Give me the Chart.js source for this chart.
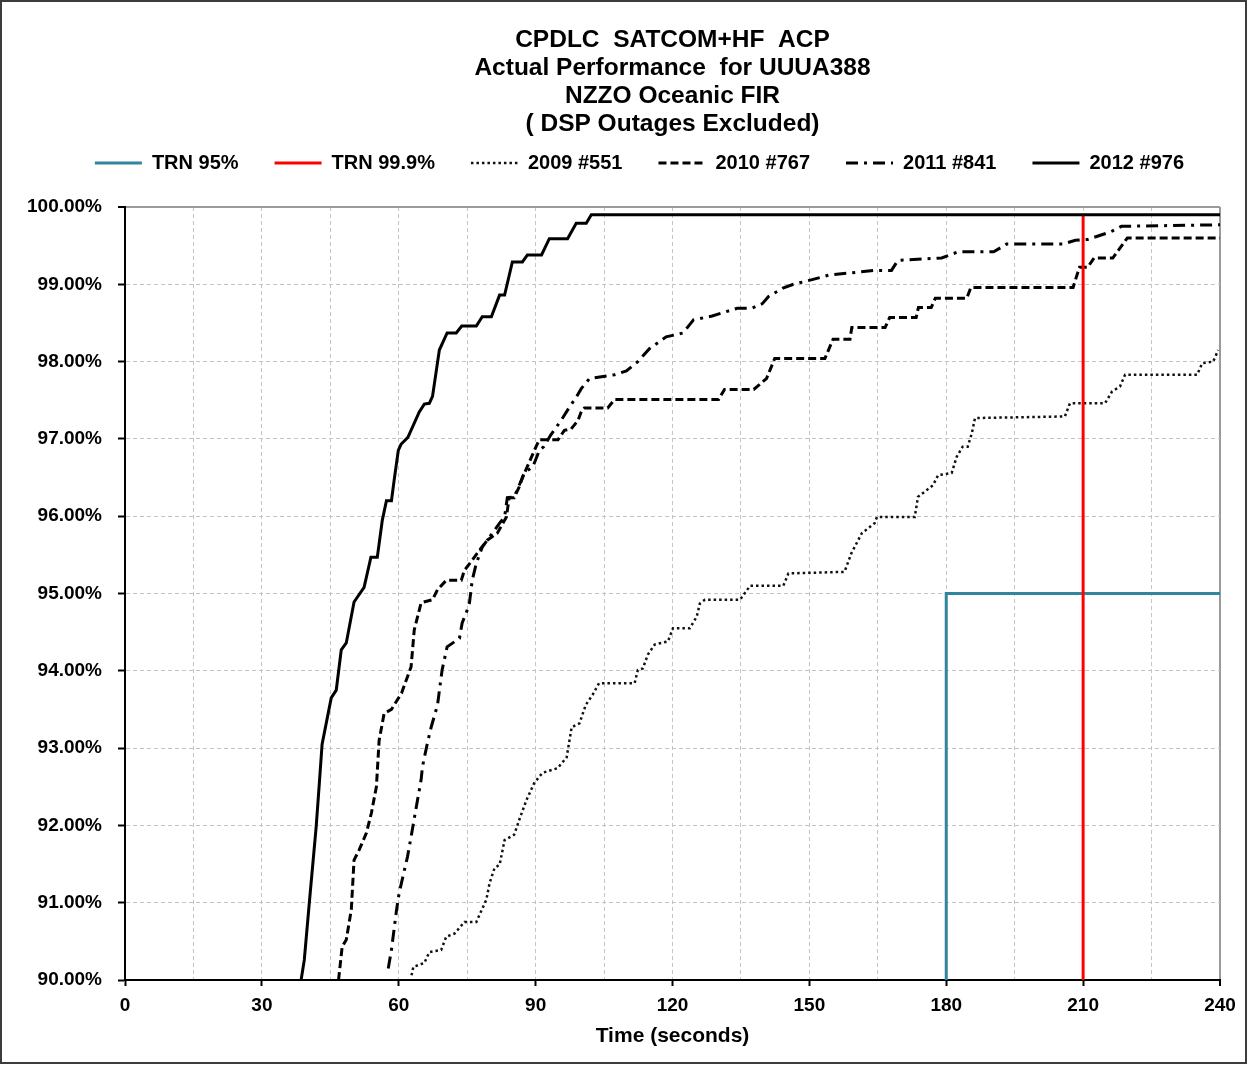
<!DOCTYPE html>
<html>
<head>
<meta charset="utf-8">
<script src="https://cdn.jsdelivr.net/npm/chart.js@4.4.1/dist/chart.umd.min.js"></script>
<style>
  html, body { margin: 0; padding: 0; background: #fff; }
  #wrap { position: relative; width: 1249px; height: 1067px; }
  #frame {
    position: absolute; left: 0; top: 0; width: 1247px; height: 1064px;
    box-sizing: border-box; border: 2px solid #3c3c3c; pointer-events: none;
  }
</style>
</head>
<body>
<div id="wrap">
  <canvas id="chart" width="1249" height="1067"></canvas>
  <div id="frame"></div>
</div>
<script>
// target lines
const trn95Time = [180, 180, 240];
const trn95Pct = [90, 95, 95];
const trn999Time = [210, 210];
const trn999Pct = [90, 99.9];

// 2009 #551 (seconds, cumulative %)
const time2009 = [62.8, 63.2, 65.6, 66.7, 69.3, 70.4, 72.2, 74.4, 77.0, 79.2, 79.9, 81.0, 82.1, 83.2, 85.3, 86.4, 88.0, 89.7,
  91.5, 94.8, 96.8, 97.9, 99.6, 101.0, 102.5, 103.9, 111.7, 112.4, 113.5, 114.6, 116.1, 119.0, 120.1, 123.8, 125.3, 126.0,
  127.1, 134.8, 135.8, 137.0, 144.3, 145.4, 157.7, 159.2, 161.5, 164.3, 164.8, 173.1, 173.8, 177.1, 178.2, 181.2, 182.3,
  183.6, 184.7, 185.6, 186.3, 206.0, 207.1, 214.8, 216.3, 218.1, 219.2, 235.0, 236.1, 238.5, 239.6];
const pct2009 = [90.06, 90.17, 90.22, 90.36, 90.39, 90.56, 90.60, 90.75, 90.75, 91.04, 91.25, 91.45, 91.49, 91.81, 91.88, 92.07, 92.33, 92.55,
  92.68, 92.74, 92.88, 93.27, 93.32, 93.56, 93.69, 93.84, 93.84, 94.01, 94.03, 94.21, 94.34, 94.38, 94.55, 94.55, 94.70, 94.87,
  94.92, 94.92, 95.00, 95.10, 95.10, 95.26, 95.28, 95.52, 95.78, 95.91, 95.99, 95.99, 96.25, 96.40, 96.53, 96.56, 96.77,
  96.90, 96.90, 97.07, 97.27, 97.29, 97.46, 97.46, 97.61, 97.68, 97.83, 97.83, 97.98, 98.00, 98.15];

// 2010 #767
const time2010 = [46.8, 47.6, 48.5, 49.6, 50.2, 51.3, 52.9, 54.0, 55.1, 55.7, 56.8, 58.4, 60.6, 61.9, 62.7, 63.4, 64.9, 67.4,
  68.5, 70.4, 73.7, 74.4, 76.1, 77.7, 79.4, 81.6, 83.6, 84.2, 85.3, 86.4, 87.2, 90.1, 90.8, 94.9, 96.3, 97.8, 99.3, 100.0,
  100.7, 105.8, 107.3, 130.1, 131.4, 137.8, 140.6, 142.4, 153.4, 155.2, 158.9, 159.3, 166.6, 167.6, 173.4, 173.9, 176.7,
  177.6, 184.5, 185.4, 207.8, 209.2, 211.0, 212.4, 216.5, 219.7, 240];
const pct2010 = [90.00, 90.43, 90.52, 90.91, 91.55, 91.68, 91.90, 92.16, 92.50, 93.10, 93.45, 93.50, 93.71, 93.92, 94.05, 94.53, 94.88, 94.92,
  95.05, 95.17, 95.17, 95.30, 95.43, 95.56, 95.69, 95.78, 95.99, 96.24, 96.24, 96.38, 96.51, 96.90, 96.99, 96.99, 97.11, 97.13, 97.24, 97.35,
  97.40, 97.40, 97.51, 97.51, 97.64, 97.64, 97.78, 98.04, 98.04, 98.29, 98.29, 98.44, 98.44, 98.57, 98.57, 98.70, 98.70,
  98.82, 98.82, 98.96, 98.96, 99.22, 99.22, 99.34, 99.34, 99.60, 99.60];

// 2011 #841
const time2011 = [57.7, 58.4, 59.5, 60.1, 61.9, 62.7, 63.4, 64.9, 65.2, 66.3, 67.1, 68.5, 69.5, 70.6, 73.3, 73.9, 74.8, 75.5,
  76.1, 77.0, 78.3, 80.5, 82.1, 83.2, 83.8, 85.3, 86.9, 87.5, 89.4, 90.8, 91.8, 93.3, 95.6, 97.4, 98.9, 100.0, 101.8, 107.3,
  109.9, 112.4, 115.0, 118.6, 122.3, 124.6, 128.7, 134.2, 137.4, 139.7, 141.0, 144.2, 146.5, 150.6, 154.3, 164.4, 168.0,
  169.4, 179.0, 182.6, 190.4, 193.2, 205.5, 208.3, 211.0, 216.1, 218.4, 240];
const pct2011 = [90.15, 90.39, 90.90, 91.13, 91.59, 91.85, 92.09, 92.59, 92.76, 93.07, 93.27, 93.56, 94.01, 94.31, 94.42, 94.62, 94.75, 94.88,
  95.17, 95.39, 95.60, 95.78, 95.91, 95.99, 96.24, 96.25, 96.47, 96.56, 96.64, 96.85, 96.90, 97.05, 97.24, 97.41, 97.54, 97.65, 97.78, 97.83,
  97.88, 98.00, 98.17, 98.32, 98.37, 98.54, 98.59, 98.69, 98.69, 98.75, 98.84, 98.95, 99.00, 99.06, 99.12, 99.18, 99.18,
  99.31, 99.34, 99.42, 99.42, 99.52, 99.52, 99.57, 99.58, 99.68, 99.75, 99.77];

// 2012 #976
const time2012 = [38.6, 39.3, 40.4, 41.9, 42.6, 43.2, 45.2, 46.3, 47.4, 48.5, 50.2, 52.4, 53.9, 55.3, 56.4, 57.3, 58.4, 59.0,
  59.9, 60.5, 62.0, 64.5, 65.6, 66.7, 67.4, 68.9, 70.6, 72.6, 73.8, 77.0, 78.3, 80.3, 82.1, 83.2, 84.9, 87.1, 88.2, 91.3,
  93.0, 97.0, 98.9, 101.1, 102.2, 240];
const pct2012 = [90.00, 90.26, 91.00, 91.98, 92.55, 93.05, 93.65, 93.75, 94.27, 94.36, 94.89, 95.08, 95.47, 95.47, 95.95, 96.20, 96.20, 96.47,
  96.85, 96.93, 97.02, 97.35, 97.45, 97.46, 97.55, 98.15, 98.37, 98.37, 98.46, 98.46, 98.58, 98.58, 98.86, 98.86, 99.29, 99.29, 99.38, 99.38,
  99.59, 99.59, 99.79, 99.79, 99.90, 99.90];

const xTicksEvery = 15;
const xLabelsEvery = 30;

function toPoints(xs, ys) {
  return xs.map((x, i) => ({ x: x, y: ys[i] }));
}

const FONT = "'Liberation Sans', Arial, sans-serif";

function makeLine(label, xs, ys, color, width, dash, order) {
  return {
    label: label,
    data: toPoints(xs, ys),
    borderColor: color,
    backgroundColor: color,
    borderWidth: width,
    borderDash: dash,
    pointRadius: 0,
    tension: 0,
    fill: false,
    order: order,
  };
}

const data = {
  datasets: [
    makeLine("TRN 95%", trn95Time, trn95Pct, "#31859C", 3, [], 3),
    makeLine("TRN 99.9%", trn999Time, trn999Pct, "#FF0000", 3, [], 2),
    makeLine("2009 #551", time2009, pct2009, "#111111", 2.5, [2.5, 3], 4),
    makeLine("2010 #767", time2010, pct2010, "#000000", 3, [8, 4], 4),
    makeLine("2011 #841", time2011, pct2011, "#000000", 3, [12, 6, 3, 6], 4),
    makeLine("2012 #976", time2012, pct2012, "#000000", 3, [], 1),
  ],
};

// legend samples: use the dataset's own dash and width
function legendLabels(chart) {
  const items = Chart.defaults.plugins.legend.labels.generateLabels(chart);
  items.forEach((item) => {
    const ds = chart.data.datasets[item.datasetIndex];
    item.lineDash = ds.borderDash;
    item.lineWidth = ds.borderWidth;
    item.strokeStyle = ds.borderColor;
    item.pointStyle = 'line';
  });
  return items;
}

const config = {
  type: 'line',
  data: data,
  options: {
    responsive: false,
    animation: false,
    layout: { padding: { left: 0, right: 29, top: 0, bottom: 0 } },
    plugins: {
      title: {
        display: true,
        fullSize: false,
        text: ["CPDLC  SATCOM+HF  ACP", "Actual Performance  for UUUA388", "NZZO Oceanic FIR", "( DSP Outages Excluded)"],
        color: "#000",
        font: { family: FONT, size: 24.5, weight: 'bold', lineHeight: 28 / 24.5 },
        padding: { top: 26, bottom: -21 },
      },
      legend: {
        display: true,
        position: 'top',
        align: 'end',
        labels: {
          usePointStyle: true,
          pointStyle: 'line',
          pointStyleWidth: 47,
          padding: 36,
          color: "#000",
          font: { family: FONT, size: 20, weight: 'bold' },
          generateLabels: legendLabels,
          sort: (a, b) => a.datasetIndex - b.datasetIndex,
        },
      },
      // spacer between legend and plot
      subtitle: {
        display: true,
        text: "",
        weight: 500,
        font: { size: 10, lineHeight: 1 },
        padding: { top: 0, bottom: 14 },
      },
      tooltip: { enabled: false },
    },
    scales: {
      x: {
        type: 'linear',
        min: 0,
        max: 240,
        afterFit: (scale) => { scale.height = 87; },
        ticks: {
          stepSize: xTicksEvery,
          autoSkip: false,
          maxRotation: 0,
          padding: 8,
          color: "#000",
          font: { family: FONT, size: 19, weight: 'bold' },
          callback: (value) => (value % xLabelsEvery === 0 ? value : ''),
        },
        grid: {
          color: (ctx) => (ctx.tick && ctx.tick.value === 240 ? '#9a9a9a' : '#c4c4c4'),
          lineWidth: (ctx) => (ctx.tick && ctx.tick.value === 240 ? 2 : 1),
          tickLength: 6,
          tickWidth: 2,
          tickColor: (ctx) => (ctx.tick && ctx.tick.value % xLabelsEvery === 0 ? '#000' : 'rgba(0,0,0,0)'),
        },
        border: {
          color: '#000',
          width: 2,
          dash: (ctx) => (ctx.tick && ctx.tick.value === 240 ? [] : [4, 3]),
        },
        title: {
          display: true,
          text: "Time (seconds)",
          color: "#000",
          font: { family: FONT, size: 21, weight: 'bold', lineHeight: 1.2 },
          padding: { top: 0, bottom: 18 },
        },
      },
      y: {
        min: 90,
        max: 100,
        afterFit: (scale) => { scale.width = 125; },
        ticks: {
          stepSize: 1,
          padding: 16,
          color: "#000",
          font: { family: FONT, size: 19, weight: 'bold' },
          callback: (value) => value.toFixed(2) + '%',
        },
        grid: {
          color: (ctx) => (ctx.tick && ctx.tick.value === 100 ? '#9a9a9a' : '#c4c4c4'),
          lineWidth: (ctx) => (ctx.tick && ctx.tick.value === 100 ? 2 : 1),
          tickLength: 7,
          tickWidth: 2,
          tickColor: '#000',
        },
        border: {
          color: '#000',
          width: 2,
          dash: (ctx) => (ctx.tick && ctx.tick.value === 100 ? [] : [4, 3]),
        },
      },
    },
  },
};

const chartElement = document.getElementById("chart");
window.myChart = new Chart(chartElement, config);
</script>
</body>
</html>
